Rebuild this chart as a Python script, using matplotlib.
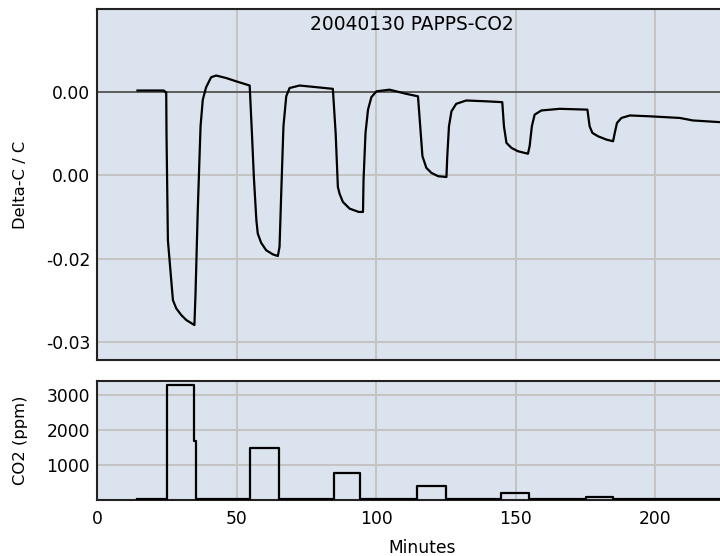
import matplotlib
matplotlib.use("Agg")
import matplotlib.pyplot as plt

# ---- data ----
minutes = [14.5, 24.0, 24.5, 24.8, 24.9, 25.4, 26.6, 27.2, 28.4, 30.2, 32.0, 34.9,
           35.3, 36.1, 37.1, 37.9, 39.1, 40.9, 42.7, 46.3, 49.9, 54.7,
           55.5, 56.2, 57.1, 57.6, 58.8, 60.6, 63.0, 64.8,
           65.4, 66.0, 66.8, 67.8, 69.0, 72.6, 78.6, 84.5,
           85.5, 86.3, 86.9, 88.1, 90.5, 93.8, 95.3,
           95.5, 96.2, 97.1, 98.3, 100.1, 104.8, 110.8, 115.0,
           115.8, 116.6, 118.0, 119.8, 122.2, 125.2,
           125.5, 126.1, 127.0, 128.7, 132.3, 139.5, 145.2,
           145.8, 146.7, 148.5, 150.8, 154.4,
           155.0, 155.8, 156.8, 159.2, 165.8, 175.7,
           176.5, 177.5, 179.5, 182.5, 184.9,
           185.5, 186.3, 187.9, 190.9, 198.0, 208.8, 213.5, 223.1, 225.0]
delta_c = [0.0002, 0.0002, 0.0000, 0.0000, -0.0049, -0.0178, -0.0226, -0.0250, -0.0260, -0.0268, -0.0274, -0.0280,
           -0.0242, -0.0142, -0.0041, -0.0009, 0.0006, 0.0018, 0.0020, 0.0017, 0.0013, 0.0008,
           -0.0049, -0.0102, -0.0154, -0.0170, -0.0181, -0.0190, -0.0195, -0.0197,
           -0.0186, -0.0122, -0.0041, -0.0005, 0.0005, 0.0008, 0.0006, 0.0004,
           -0.0049, -0.0114, -0.0122, -0.0132, -0.0140, -0.0144, -0.0144,
           -0.0105, -0.0049, -0.0021, -0.0006, 0.0001, 0.0003, -0.0002, -0.0005,
           -0.0041, -0.0077, -0.0091, -0.0097, -0.0101, -0.0102,
           -0.0077, -0.0041, -0.0023, -0.0014, -0.0010, -0.0011, -0.0012,
           -0.0041, -0.0061, -0.0067, -0.0071, -0.0074,
           -0.0065, -0.0041, -0.0027, -0.0022, -0.0020, -0.0021,
           -0.0041, -0.0049, -0.0053, -0.0057, -0.0059,
           -0.0049, -0.0037, -0.0031, -0.0028, -0.0029, -0.0031, -0.0034, -0.0036, -0.0036]

co2_minutes = [14.5, 25.2, 34.9, 35.5, 54.9, 65.3, 85.0, 94.3, 114.8, 125.0,
               144.7, 154.6, 175.2, 184.7, 225.0]
co2_ppm = [40, 3280, 1680, 40, 1490, 40, 770, 40, 410, 40, 190, 40, 95, 40, 40]

top_yticks = [0.0, -0.01, -0.02, -0.03]
top_yticklabels = ["0.00", "0.00", "-0.02", "-0.03"]
bottom_yticks = [1000, 2000, 3000]
xticks = [0, 50, 100, 150, 200]
title = "20040130 PAPPS-CO2"

# ---- style ----
bg = "#dbe4ee"
grid_c = "#c4c4c4"
fs = 12.3

fig = plt.figure(figsize=(7.2, 5.56), dpi=100)
ax1 = fig.add_axes([97 / 720, 1 - 360 / 556, 628 / 720, 351 / 556])
ax2 = fig.add_axes([97 / 720, 1 - 500 / 556, 628 / 720, 119 / 556])

for ax in (ax1, ax2):
    ax.set_facecolor(bg)
    ax.set_xlim(0, 225)
    ax.set_xticks(xticks)
    ax.grid(True, color=grid_c, linewidth=1.5)
    ax.set_axisbelow(True)
    ax.tick_params(length=0, labelsize=fs, colors="black")
    for s in ax.spines.values():
        s.set_color("#222222")
        s.set_linewidth(1.5)

# top panel
ax1.set_ylim(-0.0322, 0.0100)
ax1.set_yticks(top_yticks)
ax1.set_yticklabels(top_yticklabels)
ax1.tick_params(axis="y", pad=5)
ax1.tick_params(axis="x", labelbottom=False)
ax1.axhline(0, color="#555555", linewidth=1.3, zorder=1.5)
ax1.plot(minutes, delta_c, color="black", linewidth=1.6, zorder=3)
ax1.set_ylabel("Delta-C / C", fontsize=fs - 0.5)
ax1.yaxis.set_label_coords(-0.110, 0.5)
ax1.text(0.501, 0.957, title, transform=ax1.transAxes, ha="center", va="center",
         fontsize=13.4)

# bottom panel
ax2.set_ylim(0, 3400)
ax2.set_yticks(bottom_yticks)
ax2.tick_params(axis="y", pad=5)
ax2.tick_params(axis="x", pad=7)
ax2.step(co2_minutes, co2_ppm, where="post", color="black", linewidth=1.6, zorder=3)
ax2.set_ylabel("CO2 (ppm)", fontsize=fs - 0.5)
ax2.yaxis.set_label_coords(-0.110, 0.5)
ax2.set_xlabel("Minutes", fontsize=fs)
ax2.xaxis.set_label_coords(0.517, -0.33)

fig.savefig("out.png", dpi=100)
